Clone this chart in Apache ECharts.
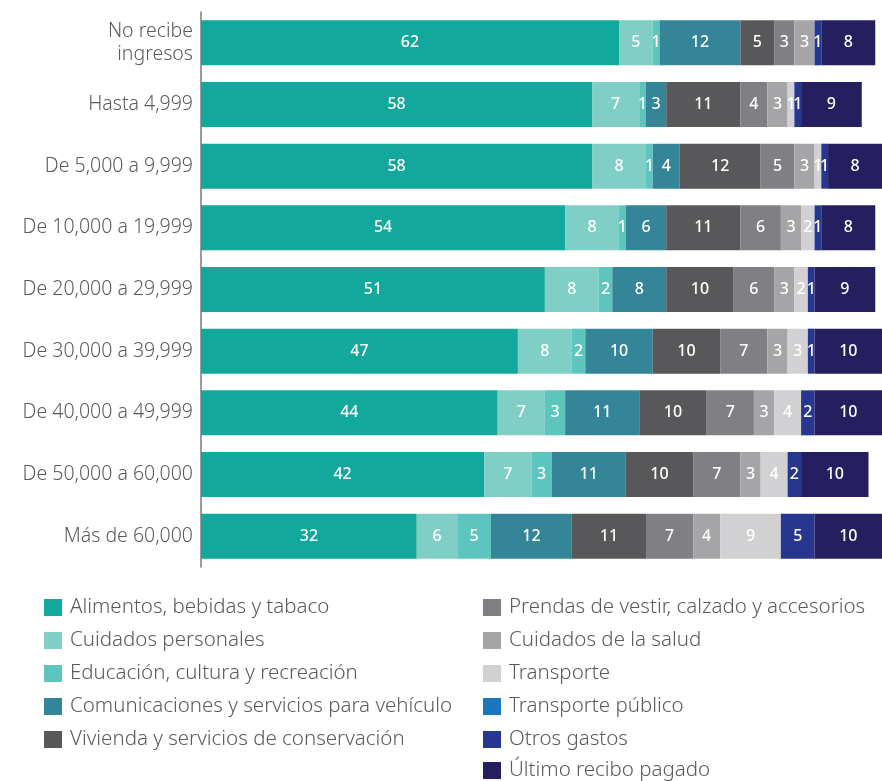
<!DOCTYPE html>
<html>
<head>
<meta charset="utf-8">
<script src="https://cdn.jsdelivr.net/npm/echarts@6/dist/echarts.min.js"></script>
<style>
  html, body { margin: 0; padding: 0; background: #ffffff; }
  #chart { width: 882px; height: 781px; }
</style>
</head>
<body>
<div id="chart"></div>
<script>
// Income brackets (top to bottom)
const categories = [
  'No recibe\ningresos',
  'Hasta 4,999',
  'De 5,000 a 9,999',
  'De 10,000 a 19,999',
  'De 20,000 a 29,999',
  'De 30,000 a 39,999',
  'De 40,000 a 49,999',
  'De 50,000 a 60,000',
  'Más de 60,000'
];

// Share of spending (%) per bracket, one array per spending group
const alimentos      = [62, 58, 58, 54, 51, 47, 44, 42, 32];
const cuidadosPers   = [5, 7, 8, 8, 8, 8, 7, 7, 6];
const educacion      = [1, 1, 1, 1, 2, 2, 3, 3, 5];
const comunicaciones = [12, 3, 4, 6, 8, 10, 11, 11, 12];
const vivienda       = [5, 11, 12, 11, 10, 10, 10, 10, 11];
const prendas        = [3, 4, 5, 6, 6, 7, 7, 7, 7];
const salud          = [3, 3, 3, 3, 3, 3, 3, 3, 4];
const transporte     = [0, 1, 1, 2, 2, 3, 4, 4, 9];
const transpPublico  = [0, 0, 0, 0, 0, 0, 0, 0, 0];
const otrosGastos    = [1, 1, 1, 1, 1, 1, 2, 2, 5];
const ultimoRecibo   = [8, 9, 8, 8, 9, 10, 10, 10, 10];

const seriesDefs = [
  { name: 'Alimentos, bebidas y tabaco', data: alimentos, color: '#12a89c' },
  { name: 'Cuidados personales', data: cuidadosPers, color: '#80cfc7' },
  { name: 'Educación, cultura y recreación', data: educacion, color: '#5ec5be' },
  { name: 'Comunicaciones y servicios para vehículo', data: comunicaciones, color: '#348598' },
  { name: 'Vivienda y servicios de conservación', data: vivienda, color: '#58585a' },
  { name: 'Prendas de vestir, calzado y accesorios', data: prendas, color: '#808084' },
  { name: 'Cuidados de la salud', data: salud, color: '#a5a5a8' },
  { name: 'Transporte', data: transporte, color: '#d1d1d3' },
  { name: 'Transporte público', data: transpPublico, color: '#1a77bd' },
  { name: 'Otros gastos', data: otrosGastos, color: '#27368f' },
  { name: 'Último recibo pagado', data: ultimoRecibo, color: '#251f60' }
];

const FONT = '"Noto Sans", "DejaVu Sans", sans-serif';

const chart = echarts.init(document.getElementById('chart'), null, { renderer: 'canvas' });

const legendText = {
  fontFamily: FONT, fontSize: 20.5, color: '#5a5a5a', fontWeight: 300,
  padding: [0, 0, 0, 3]
};

// Legend columns: five entries on the left, six on the right
function legendBlock(left, top, names) {
  return {
    orient: 'vertical', left: left, top: top, padding: 0,
    itemWidth: 18, itemHeight: 17, itemGap: 12,
    icon: 'rect',
    textStyle: legendText,
    data: names
  };
}
const names = seriesDefs.map(s => s.name);

chart.setOption({
  animation: false,
  backgroundColor: '#ffffff',
  grid: { left: 201, right: 0, top: 12, bottom: 214, containLabel: false },
  legend: [
    legendBlock(44, 597, names.slice(0, 5)),
    legendBlock(483, 597, names.slice(5, 10)),
    legendBlock(483, 760, names.slice(10))
  ],
  xAxis: {
    type: 'value', min: 0, max: 101,
    show: false
  },
  yAxis: {
    type: 'category',
    inverse: true,
    data: categories,
    axisLine: { show: true, lineStyle: { color: '#7a7a7a', width: 1.5 } },
    axisTick: { show: false },
    axisLabel: {
      margin: 8,
      fontFamily: FONT, fontSize: 19.5, color: '#5a5a5a', fontWeight: 300,
      lineHeight: 23, align: 'right'
    }
  },
  series: seriesDefs.map(s => ({
    name: s.name,
    type: 'bar',
    stack: 'total',
    barWidth: 45,
    data: s.data,
    itemStyle: { color: s.color },
    label: {
      show: true,
      position: 'inside',
      color: '#ffffff',
      fontFamily: FONT,
      fontSize: 16,
      fontWeight: 500,
      formatter: p => (p.value ? String(p.value) : '')
    }
  }))
});
</script>
</body>
</html>
